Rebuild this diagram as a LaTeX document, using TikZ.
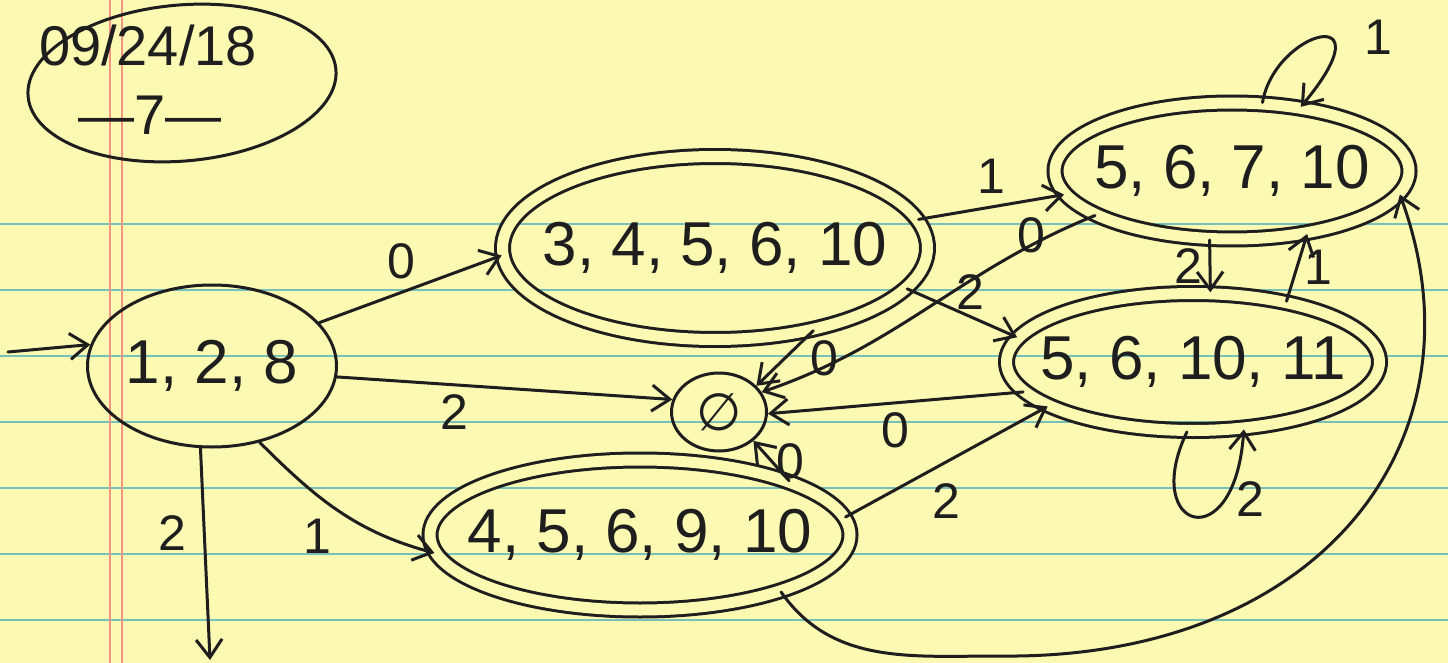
\documentclass[tikz,border=0pt]{standalone}
\usepackage{fontspec}
\setmainfont{Liberation Sans}
\newfontfamily\symfont{DejaVu Sans}
\usetikzlibrary{arrows.meta,shapes.geometric,calc}
\definecolor{paper}{RGB}{252,250,178}
\definecolor{rulecol}{RGB}{120,192,186}
\definecolor{margincol}{RGB}{240,150,130}
\definecolor{ink}{RGB}{30,30,30}
\begin{document}
\begin{tikzpicture}[x=1pt,y=1pt,
  st/.style={ellipse, draw=ink, line width=3pt, inner xsep=-100pt, inner ysep=0pt,
    font=\fontsize{62}{62}\selectfont, text=ink},
  acc/.style={st, double=paper, double distance=11pt},
  arr/.style={draw=ink, line width=3pt, line cap=round,
    -{Straight Barb[length=18pt,width=26pt,line width=3pt]}},
  lbl/.style={font=\fontsize{50}{50}\selectfont, text=ink, inner sep=2pt},
  datetxt/.style={font=\fontsize{56}{56}\selectfont, text=ink, inner sep=0pt},
]
% paper
\fill[paper] (0,0) rectangle (1448,-663);
\useasboundingbox (0,0) rectangle (1448,-663);
\foreach \y in {224,290,...,620} \draw[rulecol, line width=2.5pt] (0,-\y) -- (1448,-\y);
\draw[margincol, line width=2pt] (110,0) -- (110,-663);
\draw[margincol, line width=2pt] (122,0) -- (122,-663);

% date
\node[draw=ink, line width=3pt, ellipse, rotate=5, minimum width=309, minimum height=156, inner sep=0pt] (date) at (182,-83) {};
\node[datetxt] (d1) at (148,-45) {09/24/18};
\node[datetxt] (d2) at (150,-115) {—7—};

% states
\node[st, minimum width=249, minimum height=162] (q0) at (212,-366) {1, 2, 8};
\node[acc, minimum width=425, minimum height=183] (q1) at (715,-248) {3, 4, 5, 6, 10};
\node[acc, minimum width=354, minimum height=136] (q2) at (1232,-171) {5, 6, 7, 10};
\node[acc, minimum width=373, minimum height=137] (q3) at (1193,-362) {5, 6, 10, 11};
\node[acc, minimum width=420, minimum height=150] (q4) at (640,-535) {4, 5, 6, 9, 10};
\node[st, minimum width=95, minimum height=78, font=\symfont\fontsize{52}{52}\selectfont] (qe) at (719,-412) {∅};

% edges
\coordinate (init) at (8,-352);
\draw[arr] (init) -- (q0.170);
\draw[arr] (q0.22) -- node[lbl, pos=.45, above=10pt] {0} (q1.182);
\draw[arr] (q0.-5) -- node[lbl, pos=.35, below=6pt] {2} (qe.165);
\draw[arr] (q0.-58) to[out=-45,in=165] node[lbl, pos=.5, below left=4pt] {1} (q4.185);
\coordinate (dn) at (210,-660);
\draw[arr] (q0.-98) -- node[lbl, pos=.4, left=14pt] {2} (dn);

\draw[arr] (q1.8) -- node[lbl, above=10pt] {1} (q2.188);
\draw[arr] (q1.-12) -- node[lbl, pos=.5, above, xshift=8pt] {2} (q3.172);
\draw[arr] (q1.-40) -- node[lbl, right=22pt] {0} (qe.35);
\draw[arr] (q2.198) .. controls (960,-270) and (900,-345) .. node[lbl, pos=.17, above, yshift=-12pt] {0} (qe.25);
\draw[arr] (q3.190) -- node[lbl, below=6pt] {0} (qe.-2);
\draw[arr] (q4.20) -- node[lbl, right=2pt] {0} (qe.-40);
\draw[arr] (q4.5) -- node[lbl, pos=.5, below=18pt] {2} (q3.197);
\draw[arr] (q2.-108) -- node[lbl, left=4pt] {2} (q3.76);
\draw[arr] (q3.33) -- node[lbl, right=4pt] {1} (q2.-40);
\draw[arr] (q2.66) .. controls (1275,-30) and (1390,0) .. node[lbl, pos=.55, right=36pt] {1} (q2.43);
\draw[arr] (q3.-95) .. controls (1140,-530) and (1235,-560) .. node[lbl, pos=.75, right=8pt] {2} (q3.-53);
\coordinate (b1) at (1000,-656);
\draw[arr] (q4.-22) to[out=-55,in=180] (b1) .. controls (1320,-660) and (1490,-440) .. (q2.-8);
\end{tikzpicture}
\end{document}
